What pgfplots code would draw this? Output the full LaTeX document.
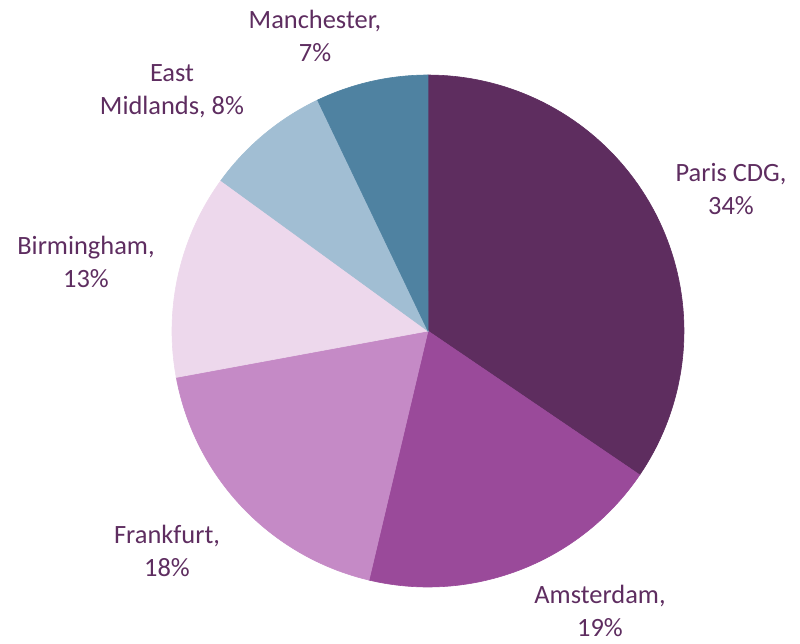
\documentclass[border=0pt]{standalone}
\usepackage{pgfplots}
\pgfplotsset{compat=1.18}
\usepackage{pgfplotstable}
\usepackage{fontspec}
\setmainfont{Carlito}
\definecolor{cParis}{HTML}{5E2D5F}
\definecolor{cAms}{HTML}{9A4A9A}
\definecolor{cFra}{HTML}{C58AC6}
\definecolor{cBir}{HTML}{EDD8EC}
\definecolor{cEast}{HTML}{A1BED3}
\definecolor{cMan}{HTML}{4F82A1}
\definecolor{txt}{HTML}{5E2D60}
\tikzset{lbl/.style={font=\fontsize{13.2}{16.5}\selectfont, text=txt, align=center, inner sep=0pt}}
% share in percent
\pgfplotstableread{
name share
ParisCDG 34.5
Amsterdam 19.2
Frankfurt 18.4
Birmingham 12.9
EastMidlands 7.9
Manchester 7.1
}\sharetable
\newcommand{\slice}[3]{% start%, end%, colour
  \pgfmathsetmacro{\aS}{90-3.6*#1}
  \pgfmathsetmacro{\aE}{90-3.6*#2}
  \addplot[fill=#3, draw=#3, line width=0.3pt, domain=\aS:\aE, samples=80]
    ({428+256*cos(x)}, {331-256*sin(x)}) -- (axis cs:428,331) -- cycle;
}
\begin{document}
\begin{tikzpicture}
\begin{axis}[
  scale only axis, width=400pt, height=322pt,
  xmin=0, xmax=800, ymin=0, ymax=644, y dir=reverse,
  hide axis, clip=false, enlargelimits=false,
]
\addplot[draw=none] coordinates {(0,0) (800,644)};
\pgfplotstablegetelem{0}{share}\of\sharetable \let\sA\pgfplotsretval
\pgfplotstablegetelem{1}{share}\of\sharetable \let\sB\pgfplotsretval
\pgfplotstablegetelem{2}{share}\of\sharetable \let\sC\pgfplotsretval
\pgfplotstablegetelem{3}{share}\of\sharetable \let\sD\pgfplotsretval
\pgfplotstablegetelem{4}{share}\of\sharetable \let\sE\pgfplotsretval
\pgfmathsetmacro{\cA}{\sA}
\pgfmathsetmacro{\cB}{\cA+\sB}
\pgfmathsetmacro{\cC}{\cB+\sC}
\pgfmathsetmacro{\cD}{\cC+\sD}
\pgfmathsetmacro{\cE}{\cD+\sE}
\slice{0}{\cA}{cParis}
\slice{\cA}{\cB}{cAms}
\slice{\cB}{\cC}{cFra}
\slice{\cC}{\cD}{cBir}
\slice{\cD}{\cE}{cEast}
\slice{\cE}{100}{cMan}
\node[lbl] at (axis cs:731,189) {Paris CDG,\\34\%};
\node[lbl] at (axis cs:600,611) {Amsterdam,\\19\%};
\node[lbl] at (axis cs:167,551) {Frankfurt,\\18\%};
\node[lbl] at (axis cs:86,262) {Birmingham,\\13\%};
\node[lbl] at (axis cs:172,91) {East\\Midlands, 8\%};
\node[lbl] at (axis cs:315,36) {Manchester,\\7\%};
\end{axis}
\pgfresetboundingbox
\path (current axis.south west) rectangle (current axis.north east);
\end{tikzpicture}
\end{document}
